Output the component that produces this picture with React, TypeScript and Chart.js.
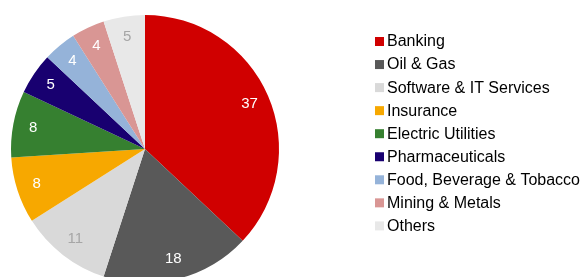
import React, { useEffect, useRef } from "react";
import { Chart, registerables } from "chart.js";

Chart.register(...registerables);

const categories = [
  "Banking",
  "Oil & Gas",
  "Software & IT Services",
  "Insurance",
  "Electric Utilities",
  "Pharmaceuticals",
  "Food, Beverage & Tobacco",
  "Mining & Metals",
  "Others",
];
const values = [37, 18, 11, 8, 8, 5, 4, 4, 5];
const colors = [
  "#D00000",
  "#595959",
  "#D9D9D9",
  "#F7A800",
  "#368030",
  "#180070",
  "#95B3D9",
  "#D99694",
  "#E8E8E8",
];
const labelColors = [
  "#FFFFFF",
  "#FFFFFF",
  "#A6A6A6",
  "#FFFFFF",
  "#FFFFFF",
  "#FFFFFF",
  "#FFFFFF",
  "#FFFFFF",
  "#A6A6A6",
];

const FONT = '"Liberation Sans", Arial, sans-serif';

const sliceLabels = {
  id: "sliceLabels",
  afterDatasetsDraw(chart: any) {
    const ctx = chart.ctx;
    const meta = chart.getDatasetMeta(0);
    ctx.save();
    ctx.font = `15px ${FONT}`;
    ctx.textAlign = "center";
    ctx.textBaseline = "middle";
    meta.data.forEach((arc: any, i: number) => {
      const p = arc.getProps(["x", "y", "startAngle", "endAngle", "outerRadius"], true);
      const mid = (p.startAngle + p.endAngle) / 2;
      const r = p.outerRadius * 0.85;
      ctx.fillStyle = labelColors[i];
      ctx.fillText(String(values[i]), p.x + Math.cos(mid) * r, p.y + Math.sin(mid) * r);
    });
    ctx.restore();
  },
};

const customLegend = {
  id: "customLegend",
  afterDraw(chart: any) {
    const ctx = chart.ctx;
    ctx.save();
    ctx.font = `16px ${FONT}`;
    ctx.textAlign = "left";
    ctx.textBaseline = "middle";
    categories.forEach((c, i) => {
      const cy = 41.5 + i * 23.05;
      ctx.fillStyle = colors[i];
      ctx.fillRect(375, cy - 4.5, 9, 9);
      ctx.fillStyle = "#000000";
      ctx.fillText(c, 387, cy + 0.5);
    });
    ctx.restore();
  },
};

export default function App() {
  const ref = useRef<HTMLCanvasElement>(null);
  useEffect(() => {
    if (!ref.current) return;
    const chart = new Chart(ref.current, {
      type: "pie",
      data: {
        labels: categories,
        datasets: [
          {
            data: values,
            backgroundColor: colors,
            borderWidth: 0,
          },
        ],
      },
      options: {
        animation: false,
        responsive: false,
        maintainAspectRatio: false,
        layout: { padding: { left: 11, top: 15, right: 304, bottom: 17 } },
        plugins: {
          legend: { display: false },
          tooltip: { enabled: false },
        },
      },
      plugins: [sliceLabels, customLegend],
    });
    return () => chart.destroy();
  }, []);
  return (
    <div
      style={{
        position: "fixed",
        left: 0,
        top: 0,
        width: 583,
        height: 277,
        overflow: "hidden",
        background: "#fff",
      }}
    >
      <canvas ref={ref} width={583} height={300} style={{ width: 583, height: 300, display: "block" }} />
    </div>
  );
}
